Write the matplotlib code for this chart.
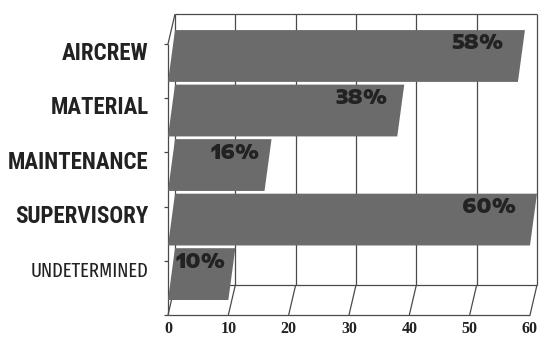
import matplotlib
matplotlib.use('Agg')
import matplotlib.pyplot as plt
from matplotlib.patches import Polygon


# Data
categories = ['AIRCREW', 'MATERIAL', 'MAINTENANCE', 'SUPERVISORY', 'UNDETERMINED']
percents = [58, 38, 16, 60, 10]
bold_labels = [True, True, True, True, False]
x_ticks = [0, 10, 20, 30, 40, 50, 60]

# Box geometry (data units)
DX = 1.16          # depth shift along x
DY = 0.55          # depth shift along y
FLOOR = -0.75      # front floor line
WALL_BOTTOM = FLOOR + DY
WALL_TOP = 4.77
BAR_H = 0.95

GRID = '#4a4a4a'
BAR = '#6b6b6b'
INK = '#222222'

fig = plt.figure(figsize=(5.4, 3.4), dpi=100)
ax = fig.add_axes([168 / 540, 25 / 340, 362 / 540, 301 / 340])
ax.set_xlim(0, 60)
ax.set_ylim(FLOOR, WALL_TOP)
ax.axis('off')


def line(xs, ys, lw=0.9):
    ax.plot(xs, ys, color=GRID, lw=lw, clip_on=False, solid_capstyle='butt')


# Back wall
xmax = x_ticks[-1]
for t in x_ticks:
    line([t + DX, t + DX], [WALL_BOTTOM, WALL_TOP])
line([DX, xmax + DX], [WALL_TOP, WALL_TOP])
line([DX, xmax + DX], [WALL_BOTTOM, WALL_BOTTOM])

# Floor
line([0, xmax], [FLOOR, FLOOR])
for t in x_ticks:
    line([t, t + DX], [FLOOR, WALL_BOTTOM])
    ax.text(t, FLOOR - 0.25, str(t), ha='center', va='center', fontsize=11.5,
            fontweight='bold', family=['Liberation Serif', 'DejaVu Serif'], color=INK)

# Left side with row ticks
n = len(categories)
row = (WALL_TOP - WALL_BOTTOM) / n
line([0, 0], [FLOOR, WALL_TOP - DY])
line([0, DX], [WALL_TOP - DY, WALL_TOP])
for k in range(n + 1):
    yk = FLOOR + k * row
    line([-0.6, 0], [yk, yk])

# Bars, top edge pushed back by the depth shift
for i, (cat, v, bold) in enumerate(zip(categories, percents, bold_labels)):
    yc = n - 1 - i
    y0, y1 = yc - BAR_H / 2, yc + BAR_H / 2
    poly = Polygon([(0, y0), (v, y0), (v + DX, y1), (DX, y1)], closed=True,
                   facecolor=BAR, edgecolor='none', clip_on=False, zorder=3)
    ax.add_patch(poly)
    ax.text(v * 0.955 + DX - 5.3, yc + 0.23, f'{v}%', ha='center', va='center',
            fontsize=14, fontweight=900, color=INK, zorder=4,
            family=['Encode Sans Expanded', 'DejaVu Sans'])
    if bold:
        ax.text(-3.2, yc + 0.05, cat, ha='right', va='center', fontsize=16.5,
                fontweight=900, family=['Roboto Condensed', 'DejaVu Sans'], color=INK)
    else:
        ax.text(-3.2, yc + 0.05, cat, ha='right', va='center', fontsize=14.5,
                family=['Fira Sans Extra Condensed', 'DejaVu Sans'], color=INK)

fig.savefig('out.png', dpi=100, facecolor='white')
